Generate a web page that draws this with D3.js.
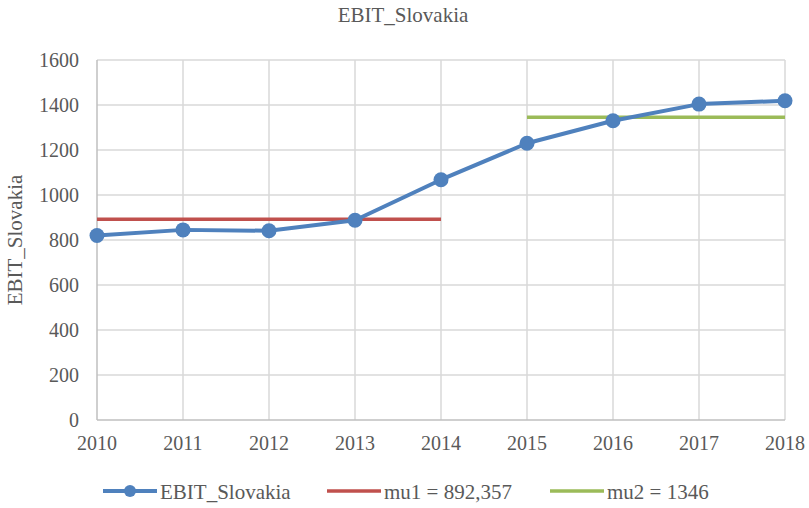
<!DOCTYPE html>
<html>
<head>
<meta charset="utf-8">
<script src="https://cdn.jsdelivr.net/npm/d3@7"></script>
<style>
  body { margin: 0; background: #fff; }
</style>
</head>
<body>
<script>
const years = [2010, 2011, 2012, 2013, 2014, 2015, 2016, 2017, 2018];
const ebit = [820, 845, 841, 888, 1068, 1230, 1330, 1404, 1419];
const mu1 = 892.357, mu1Years = [2010, 2014];
const mu2 = 1346, mu2Years = [2015, 2018];
const yTicks = [0, 200, 400, 600, 800, 1000, 1200, 1400, 1600];

const width = 809, height = 508;
const margin = {top: 60, right: 24, bottom: 88, left: 97};
const font = "'Liberation Serif', 'Times New Roman', Times, 'DejaVu Serif', serif";

const svg = d3.select("body").append("svg")
  .attr("width", width)
  .attr("height", height)
  .attr("font-family", font)
  .style("font-family", font);

const x = d3.scaleLinear().domain([2010, 2018]).range([margin.left, width - margin.right]);
const y = d3.scaleLinear().domain([0, 1600]).range([height - margin.bottom, margin.top]);

// grid
svg.append("g").selectAll("line").data(yTicks.slice(1))
  .enter().append("line")
  .attr("x1", x(2010)).attr("x2", x(2018))
  .attr("y1", d => y(d)).attr("y2", d => y(d))
  .attr("stroke", "#d9d9d9").attr("stroke-width", 1.5);
svg.append("g").selectAll("line").data(years.slice(1))
  .enter().append("line")
  .attr("x1", d => x(d)).attr("x2", d => x(d))
  .attr("y1", y(0)).attr("y2", y(1600))
  .attr("stroke", "#d9d9d9").attr("stroke-width", 1.5);

// axes
svg.append("line").attr("x1", x(2010)).attr("x2", x(2010)).attr("y1", y(0)).attr("y2", y(1600))
  .attr("stroke", "#bfbfbf").attr("stroke-width", 1.5);
svg.append("line").attr("x1", x(2010)).attr("x2", x(2018)).attr("y1", y(0)).attr("y2", y(0))
  .attr("stroke", "#bfbfbf").attr("stroke-width", 1.5);

svg.append("g").selectAll("text").data(yTicks)
  .enter().append("text")
  .attr("x", 79).attr("y", d => y(d) + 7)
  .attr("text-anchor", "end").attr("font-size", 20).attr("fill", "#595959")
  .text(d => d);

svg.append("g").selectAll("text").data(years)
  .enter().append("text")
  .attr("x", d => x(d)).attr("y", y(0) + 30)
  .attr("text-anchor", "middle").attr("font-size", 20).attr("fill", "#595959")
  .text(d => d);

// title + axis title
svg.append("text").attr("x", 403).attr("y", 22)
  .attr("text-anchor", "middle").attr("font-size", 21).attr("fill", "#595959").text("EBIT_Slovakia");
svg.append("text").attr("transform", "translate(22,240) rotate(-90)")
  .attr("text-anchor", "middle").attr("font-size", 21).attr("fill", "#595959").text("EBIT_Slovakia");

// mean lines
svg.append("line").attr("x1", x(mu1Years[0])).attr("x2", x(mu1Years[1]))
  .attr("y1", y(mu1)).attr("y2", y(mu1))
  .attr("stroke", "#C0504D").attr("stroke-width", 3.5);
svg.append("line").attr("x1", x(mu2Years[0])).attr("x2", x(mu2Years[1]))
  .attr("y1", y(mu2)).attr("y2", y(mu2))
  .attr("stroke", "#9BBB59").attr("stroke-width", 3.5);

// series
const line = d3.line().x((d, i) => x(years[i])).y(d => y(d));
svg.append("path").datum(ebit)
  .attr("d", line).attr("fill", "none")
  .attr("stroke", "#4F81BD").attr("stroke-width", 4).attr("stroke-linejoin", "round");
svg.append("g").selectAll("circle").data(ebit)
  .enter().append("circle")
  .attr("cx", (d, i) => x(years[i])).attr("cy", d => y(d)).attr("r", 7.5)
  .attr("fill", "#4F81BD");

// legend
const legend = [
  {label: "EBIT_Slovakia", color: "#4F81BD", x: 103, marker: true},
  {label: "mu1 = 892,357", color: "#C0504D", x: 327, marker: false},
  {label: "mu2 = 1346", color: "#9BBB59", x: 550, marker: false}
];
const ly = 491;
const lg = svg.append("g").selectAll("g").data(legend).enter().append("g");
lg.append("line").attr("x1", d => d.x).attr("x2", d => d.x + 54)
  .attr("y1", ly).attr("y2", ly)
  .attr("stroke", d => d.color).attr("stroke-width", d => d.marker ? 4 : 3.5);
lg.filter(d => d.marker).append("circle")
  .attr("cx", d => d.x + 27).attr("cy", ly).attr("r", 6).attr("fill", d => d.color);
lg.append("text").attr("x", d => d.x + 57).attr("y", ly + 8)
  .attr("font-size", 21).attr("fill", "#595959").text(d => d.label);
</script>
</body>
</html>
